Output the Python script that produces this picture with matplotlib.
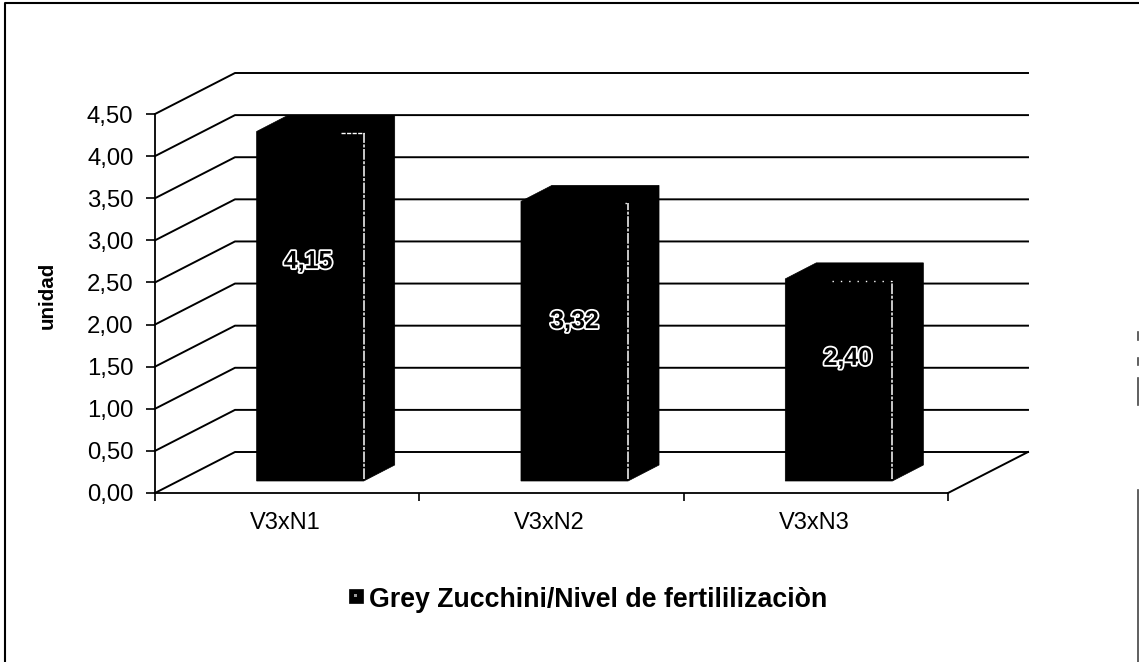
import matplotlib
matplotlib.use("Agg")
import matplotlib.pyplot as plt
import matplotlib.patheffects as pe
from matplotlib.patches import Polygon, Rectangle

categories = ["V3xN1", "V3xN2", "V3xN3"]
values = [4.15, 3.32, 2.40]
value_labels = ["4,15", "3,32", "2,40"]
y_ticks = [0.0, 0.5, 1.0, 1.5, 2.0, 2.5, 3.0, 3.5, 4.0, 4.5]
y_tick_labels = ["0,00", "0,50", "1,00", "1,50", "2,00", "2,50", "3,00", "3,50", "4,00", "4,50"]
legend_label = "Grey Zucchini/Nivel de fertililizaciòn"

W, H = 1139, 662
AX_L, AX_R, AX_T, AX_B = 155, 948, 114, 493

# 3d look: depth of the wall and of the bars, in data units
x_per_px = 3 / (AX_R - AX_L)
y_per_px = 4.5 / (AX_B - AX_T)
wall_dx = 80 * x_per_px
wall_dy = 41 * y_per_px
bar_shift_x = 23 * x_per_px
bar_shift_y = 12 * y_per_px
bar_dx = 31 * x_per_px
bar_dy = 16 * y_per_px
bar_width = 0.405

# where the value labels sit relative to the middle of each bar, in px
label_off = [(-2, 45), (0, 20), (9, 22)]
# length of the white dash on top of each bar, in px
top_dash = [23, 3, 60]

plt.rcParams["font.family"] = ["Liberation Sans", "DejaVu Sans"]

fig = plt.figure(figsize=(W / 100, H / 100), dpi=100)
ax = fig.add_axes([AX_L / W, 1 - AX_B / H, (AX_R - AX_L) / W, (AX_B - AX_T) / H])
ax.set_xlim(0, 3)
ax.set_ylim(0, 4.5)
ax.patch.set_alpha(0)
for s in ["top", "right"]:
    ax.spines[s].set_visible(False)
for s in ["left", "bottom"]:
    ax.spines[s].set_linewidth(1.3)

for t in y_ticks:
    ax.plot([0, wall_dx, 3 + wall_dx], [t, t + wall_dy, t + wall_dy],
            color="black", lw=1.4, clip_on=False, zorder=1)
ax.plot([3, 3 + wall_dx], [0, wall_dy], color="black", lw=1.4, clip_on=False, zorder=1)

for i, v in enumerate(values):
    x0 = i + 0.5 + bar_shift_x - bar_width / 2
    x1 = x0 + bar_width
    y0 = bar_shift_y
    y1 = v + bar_shift_y
    ax.add_patch(Polygon([(x0, y0), (x1, y0), (x1 + bar_dx, y0 + bar_dy), (x1 + bar_dx, y1 + bar_dy),
                          (x0 + bar_dx, y1 + bar_dy), (x0, y1)],
                         closed=True, fc="black", ec="black", lw=0.5, clip_on=False, zorder=3))
    # white dashes left along the front edge of the bar
    ax.plot([x1, x1], [y0 + 0.02, y1 - 0.02], color="white", lw=1.1, ls=(0, (7, 1, 2, 1)), zorder=4)
    ax.plot([x1 - top_dash[i] * x_per_px, x1], [y1 - 0.02, y1 - 0.02], color="white", lw=1,
            ls=(0, (3, 1)) if i == 0 else (0, (1, 5)), zorder=4)
    ax.annotate(value_labels[i], ((x0 + x1) / 2, (y0 + y1) / 2),
                xytext=(label_off[i][0] * 0.72, label_off[i][1] * 0.72), textcoords="offset points",
                ha="center", va="center", fontsize=18, fontweight="bold", color="black", zorder=5,
                path_effects=[pe.withStroke(linewidth=2.6, foreground="white")])

ax.set_yticks(y_ticks)
ax.set_yticklabels(y_tick_labels, fontsize=17.2)
ax.set_xticks([0, 1, 2, 3])
ax.set_xticklabels([])
ax.tick_params(axis="y", length=6.5, width=1.2, pad=9, direction="out")
ax.tick_params(axis="x", length=6, width=1.2, direction="out")
for i, c in enumerate(categories):
    ax.annotate(c, (i + 0.5, 0), xytext=(-2 * 0.72, -30 * 0.72), textcoords="offset points",
                ha="center", va="center", fontsize=17)

fig.text(47 / W, 1 - 295 / H, "unidad", fontsize=14.8, fontweight="bold", rotation=90,
         ha="center", va="center")

# legend drawn by hand, one marker and one bold label
fig.add_artist(Rectangle((349 / W, 1 - 603 / H), 14 / W, 14 / H, transform=fig.transFigure,
                         fc="black", ec="black", lw=0.5))
fig.add_artist(Rectangle((354 / W, 1 - 597 / H), 3 / W, 3 / H, transform=fig.transFigure,
                         fc="#999999", ec="none"))
fig.text(369 / W, 1 - 600 / H, legend_label, fontsize=19.3, fontweight="bold", va="center")

# scanned frame: top and left lines, broken line at the far right
fig.add_artist(plt.Line2D([4.5 / W, 4.5 / W, 1], [0, 1 - 3 / H, 1 - 3 / H], color="black", lw=1.5))
for a, b in [(332, 340), (358, 365), (378, 405), (490, 662)]:
    fig.add_artist(plt.Line2D([1138 / W, 1138 / W], [1 - a / H, 1 - b / H], color="#444444", lw=1.2))

fig.savefig("out.png", dpi=100)
